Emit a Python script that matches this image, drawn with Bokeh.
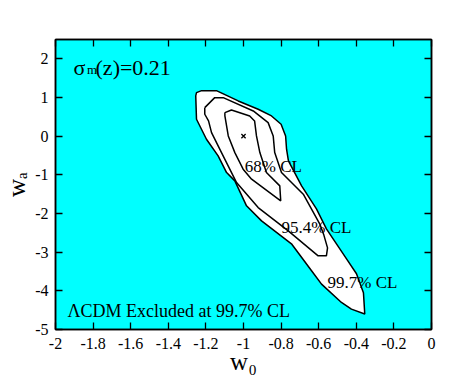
from bokeh.plotting import figure
from bokeh.models import Label, LinearAxis, FixedTicker
from bokeh.embed import file_html
from bokeh.resources import INLINE

# ---- data ----
x_ticks = [-2, -1.8, -1.6, -1.4, -1.2, -1, -0.8, -0.6, -0.4, -0.2, 0]
x_tick_labels = ["-2", "-1.8", "-1.6", "-1.4", "-1.2", "-1", "-0.8", "-0.6", "-0.4", "-0.2", "0"]
y_ticks = [-5, -4, -3, -2, -1, 0, 1, 2]
y_tick_labels = ["-5", "-4", "-3", "-2", "-1", "0", "1", "2"]

# 99.7% CL contour
outer_w0 = [-1.254, -1.250, -1.223, -1.144, -1.028, -0.922, -0.851, -0.800, -0.776, -0.771,
            -0.761, -0.691, -0.612, -0.559, -0.452, -0.399, -0.362, -0.355, -0.426, -0.479,
            -0.585, -0.638, -0.745, -0.904, -0.984, -1.046, -1.090, -1.135, -1.197, -1.250]
outer_wa = [1.04, 1.125, 1.177, 1.177, 0.911, 0.696, 0.523, 0.309, 0.006, -0.337,
            -0.640, -1.286, -1.880, -2.397, -3.172, -3.559, -4.050, -4.601, -4.472, -4.301,
            -3.826, -3.482, -2.784, -2.190, -1.802, -1.156, -0.942, -0.510, -0.079, 0.438]
# 95.4% CL contour
mid_w0 = [-1.206, -1.153, -1.108, -0.948, -0.869, -0.842, -0.834, -0.798, -0.682, -0.594,
          -0.574, -0.553, -0.559, -0.603, -0.762, -0.922, -1.037, -1.117, -1.170, -1.186, -1.206]
mid_wa = [0.738, 0.996, 0.996, 0.652, 0.350, 0.006, -0.425, -0.942, -1.500, -2.275,
          -2.534, -2.888, -3.094, -3.094, -2.448, -1.846, -1.200, -0.425, 0.092, 0.394, 0.567]
# 68% CL contour
in_w0 = [-1.099, -1.064, -0.967, -0.941, -0.931, -0.913, -0.878, -0.807, -0.802, -0.957,
         -1.002, -1.046, -1.081, -1.099]
in_wa = [0.609, 0.678, 0.523, 0.394, 0.006, -0.425, -0.942, -1.286, -1.673, -1.112,
         -0.854, -0.425, 0.006, 0.523]

best_w0 = [-1.0]
best_wa = [0.0]

cl_labels = ["68% CL", "95.4% CL", "99.7% CL"]
cl_label_w0 = [-0.993, -0.798, -0.553]
cl_label_wa = [-0.795, -2.363, -3.784]

x_title = "w\u2080"
y_title = "w\u2090"

FONT = "Liberation Serif"

p = figure(x_range=(-2, 0), y_range=(-5, 2.5), frame_width=376, frame_height=290,
           output_backend="svg", toolbar_location=None,
           min_border_left=54, min_border_top=39, min_border_right=30, min_border_bottom=50,
           background_fill_color="#00FFFF", border_fill_color="white",
           outline_line_color="black", outline_line_width=1.5)
p.grid.visible = False

def style_axis(ax, ticks, labels, show_labels, standoff):
    ax.ticker = FixedTicker(ticks=ticks)
    ax.major_label_overrides = {t: l for t, l in zip(ticks, labels)}
    ax.major_tick_in = 7
    ax.major_tick_out = 0
    ax.major_tick_line_width = 1.3
    ax.minor_tick_line_color = None
    ax.axis_line_width = 1.5
    ax.major_label_standoff = standoff
    ax.major_label_text_font = FONT
    ax.major_label_text_color = "black"
    if show_labels:
        ax.major_label_text_font_size = "16px"
    else:
        ax.major_label_text_font_size = "1px"
        ax.major_label_text_alpha = 0

style_axis(p.xaxis[0], x_ticks, x_tick_labels, True, 8)
style_axis(p.yaxis[0], y_ticks, y_tick_labels, True, 7)
for ax, title, so in ((p.xaxis[0], x_title, -4), (p.yaxis[0], y_title, 2)):
    ax.axis_label = title
    ax.axis_label_text_font = FONT
    ax.axis_label_text_font_size = "25px"
    ax.axis_label_text_font_style = "normal"
    ax.axis_label_text_color = "black"
    ax.axis_label_standoff = so

top = LinearAxis()
right = LinearAxis()
style_axis(top, x_ticks, x_tick_labels, False, 0)
style_axis(right, y_ticks, y_tick_labels, False, 0)
p.add_layout(top, "above")
p.add_layout(right, "right")

p.patch(outer_w0, outer_wa, fill_color="white", line_color="black", line_width=1.5)
p.line(mid_w0 + mid_w0[:1], mid_wa + mid_wa[:1], line_color="black", line_width=1.5)
p.line(in_w0 + in_w0[:1], in_wa + in_wa[:1], line_color="black", line_width=1.5)
p.scatter(best_w0, best_wa, marker="x", size=6, line_color="black", line_width=1.3)

for t, x, y in zip(cl_labels, cl_label_w0, cl_label_wa):
    p.add_layout(Label(x=x, y=y, text=t, text_font=FONT, text_font_size="17px",
                       text_baseline="alphabetic", text_align="left", text_color="black"))

p.add_layout(Label(x=-1.936, y=-4.516, text="\u039bCDM Excluded at 99.7% CL", text_font=FONT,
                   text_font_size="18px", text_baseline="alphabetic", text_color="black"))

# sigma_m(z)=0.21
p.add_layout(Label(x=-1.904, y=1.764, text="\u03c3", text_font=FONT, text_font_size="22px",
                   text_baseline="alphabetic", text_color="black"))
p.add_layout(Label(x=-1.832, y=1.715, text="m", text_font=FONT, text_font_size="13px",
                   text_baseline="alphabetic", text_color="black"))
p.add_layout(Label(x=-1.787, y=1.764, text="(z)=0.21", text_font=FONT, text_font_size="22px",
                   text_baseline="alphabetic", text_color="black"))

open("out.html", "w").write(file_html(p, INLINE))
